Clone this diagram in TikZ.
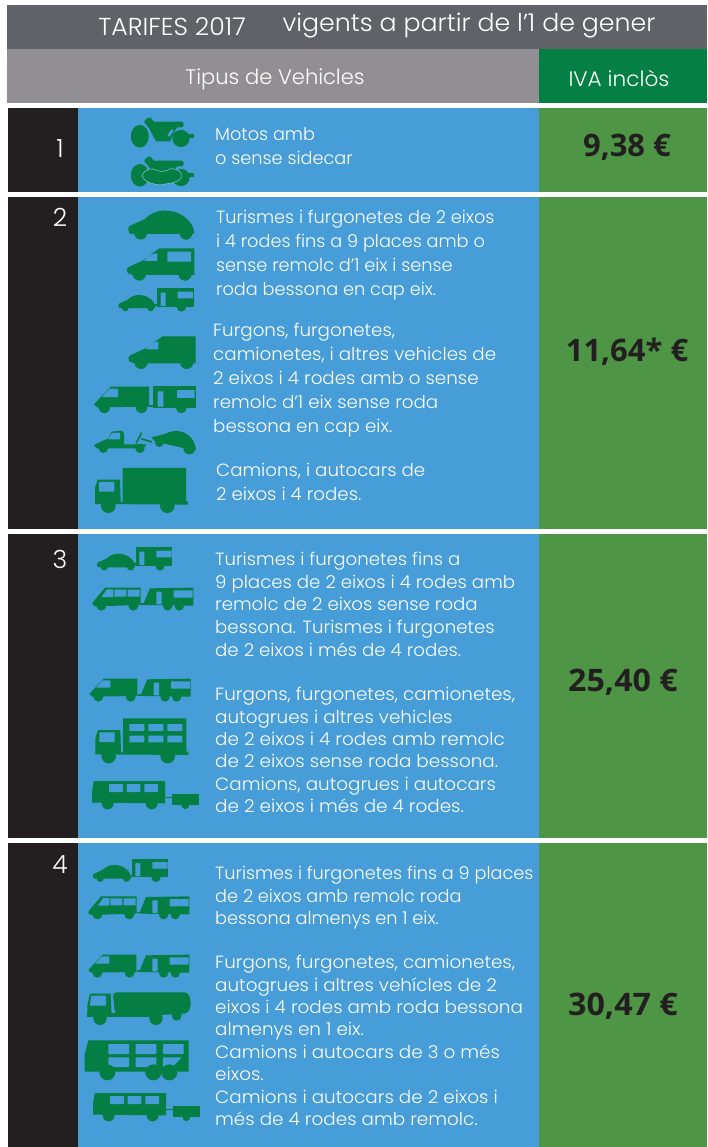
\documentclass[tikz,border=0pt]{standalone}
\usepackage{fontspec}
\setmainfont{Poppins}[UprightFont=* Light,BoldFont=* SemiBold]
\newfontfamily\pricefont{Open Sans}[UprightFont=* Bold]
\definecolor{darkhead}{HTML}{5F6368}
\definecolor{greyhead}{HTML}{918F94}
\definecolor{greenhead}{HTML}{048045}
\definecolor{rowblack}{HTML}{231F20}
\definecolor{rowblue}{HTML}{469DD7}
\definecolor{rowgreen}{HTML}{4E9645}
\definecolor{iconc}{HTML}{047E43}
\tikzset{
  band/.style={fill=#1,draw=none},
  head/.style={text=white,inner sep=0pt,font=\fontsize{21}{24}\selectfont},
  headb/.style={text=white,inner sep=0pt,font=\fontsize{24.5}{28}\selectfont},
  para/.style={text=white,anchor=north west,inner sep=0pt,align=left,font=\fontsize{17.7}{#1}\selectfont},
  num/.style={text=white,inner sep=0pt,font=\fontsize{25}{28}\selectfont},
  price/.style={text=rowblack,inner sep=0pt,font=\pricefont\fontsize{31}{34}\selectfont},
  win/.style={fill=rowblue,draw=none,rounded corners=.5pt},
  ic/.style={fill=iconc,draw=none},
  pics/icar/.style={code={
    \fill[ic] (2,58) .. controls (0,50) and (5,50) .. (10,46) -- (50,28) .. controls (70,10) and (90,0) .. (115,2) .. controls (160,2) and (198,35) .. (200,70) -- (195,72) -- (10,72) .. controls (5,72) and (2,65) .. (2,58) -- cycle;
    \fill[ic] (39,70) circle[radius=19] (175,70) circle[radius=19];}},
  pics/ivan/.style={code={
    \fill[ic] (2,66) -- (8,58) -- (52,38) -- (100,2) -- (205,2) -- (205,82) -- (20,82) -- (5,76) -- cycle;
    \fill[win] (54,40) .. controls (65,25) and (80,17) .. (94,17) -- (94,40) -- cycle;
    \fill[win] (124,12) rectangle (195,42);
    \fill[ic] (40,79) circle[radius=20] (177,79) circle[radius=20];}},
  pics/ipanel/.style={code={
    \fill[ic] (2,66) -- (8,58) -- (52,38) -- (105,1) -- (204,1) -- (204,82) -- (20,82) -- (5,76) -- cycle;
    \fill[win] (54,40) .. controls (65,25) and (80,17) .. (92,17) -- (92,40) -- cycle;
    \fill[ic] (40,79) circle[radius=20] (177,79) circle[radius=20];}},
  pics/icaravan/.style={code={
    \fill[ic] (0,0) rectangle (110,56);
    \fill[ic] (-12,48) rectangle (0,53);
    \fill[win] (11,13) rectangle (26,53);
    \fill[win] (62,10) rectangle (108,30);
    \fill[ic] (73,56) circle[radius=14];}},
  pics/icaravanb/.style={code={
    \fill[ic] (0,50) -- (20,2) -- (150,0) -- (150,54) -- (5,52) -- cycle;
    \fill[ic] (-8,46) rectangle (4,51);
    \fill[win] (39,12) rectangle (55,50);
    \fill[win] (91,8) rectangle (148,30);
    \fill[ic] (73,55) circle[radius=14] (108,55) circle[radius=14];}},
  pics/ibus/.style={code={
    \fill[ic] (0,50) -- (3,42) -- (38,0) -- (145,0) -- (145,52) -- (8,56) -- cycle;
    \fill[win] (28,28) -- (44,5) -- (63,5) -- (63,28) -- cycle;
    \fill[win] (66,6) rectangle (102,27);
    \fill[win] (106,6) rectangle (142,27);
    \fill[ic] (27,54) circle[radius=15] (123,54) circle[radius=15];}},
  pics/ivanb/.style={code={
    \fill[ic] (0,46) -- (43,0) -- (144,0) -- (144,52) -- (8,54) -- cycle;
    \fill[win] (20,27) -- (40,5) -- (63,5) -- (63,27) -- cycle;
    \fill[ic] (27,54) circle[radius=15] (124,54) circle[radius=15];}},
  pics/itruck/.style={code={
    \fill[ic] (0,60) -- (8,35) -- (75,35) -- (77,102) -- (83,102) -- (83,0) -- (273,0) -- (273,100) -- (279,100) -- (279,110) -- (0,108) -- cycle;
    \fill[win] (12,42) rectangle (58,71);
    \fill[ic] (40,113) circle[radius=22] (217,113) circle[radius=22];}},
  pics/ibust/.style={code={
    \fill[ic] (5,0) -- (219,0) -- (219,67) -- (0,65) -- (0,35) -- cycle;
    \fill[win] (51,9) rectangle (93,33);
    \fill[win] (104,9) rectangle (145,33);
    \fill[win] (157,9) rectangle (198,33);
    \fill[ic] (47,67) circle[radius=18] (179,67) circle[radius=18];
    \fill[ic] (219,47) rectangle (242,51);
    \fill[ic] (241,39) rectangle (320,71);
    \fill[ic] (280,72) circle[radius=12];}},
  pics/imoto/.style={code={
    \fill[ic] (139.8,136.3) ellipse[x radius=9,y radius=11.3];
    \fill[ic] (181,138.5) ellipse[x radius=8.6,y radius=8.6];
    \fill[ic] (188,134.5) rectangle (194,138);
    \fill[ic,rounded corners=2pt] (155,121.7) rectangle (183.5,127.3);
    \fill[ic,rounded corners=.6pt] (144,122) -- (147,118) -- (151,117.5) -- (152,120) -- (158,124) -- (178,126) -- (176,129) -- (170,141.5) -- (156,141.5) -- (149,128) -- cycle;
    \fill[rowblue] (167,136.5) -- (171,129.5) -- (174,130) -- (170,136.5) -- cycle;}}
}
\begin{document}
\begin{tikzpicture}[x=1pt,y=-1pt]
\useasboundingbox (0,0) rectangle (707,1147);
\fill[white] (0,0) rectangle (707,1147);
% header
\fill[band=darkhead] (7,5) rectangle (707,49);
\fill[band=greyhead] (7,49) rectangle (539,103);
\fill[band=greenhead] (539,49) rectangle (707,103);
\node[headb,xscale=1.03] (title) at (172,27) {TARIFES 2017};
\node[headb,xscale=1.03] (validity) at (469,26) {vigents a partir de l’1 de gener};
\node[head] (types) at (275,79) {Tipus de Vehicles};
\node[head,xscale=1.03] (vat) at (619,78) {IVA inclòs};
% bands
\foreach \a/\b in {108/192,197/529,534/838,843/1147}{
  \fill[band=rowblack] (8,\a) rectangle (78,\b);
  \fill[band=rowblue] (78,\a) rectangle (539,\b);
  \fill[band=rowgreen] (539,\a) rectangle (707,\b);
}
\node[num] (n1) at (60,149) {1};
\node[num] (n2) at (60,217) {2};
\node[num] (n3) at (60,559) {3};
\node[num] (n4) at (60,865) {4};
\node[price] (p1) at (627,147) {9,38 €};
\node[price] (p2) at (627,352) {11,64* €};
\node[price,xscale=1.04] (p3) at (623,682) {25,40 €};
\node[price,xscale=1.04] (p4) at (623,1006) {30,47 €};
% texts
\node[para=24] (t1) at (215,127) {Motos amb\\o sense sidecar};
\node[para=24] (t2) at (216,210) {Turismes i furgonetes de 2 eixos\\i 4 rodes fins a 9 places amb o\\sense remolc d’1 eix i sense\\roda bessona en cap eix.};
\node[para=24,xscale=1.033] (t3) at (213,323) {Furgons, furgonetes,\\camionetes, i altres vehicles de\\2 eixos i 4 rodes amb o sense\\remolc d’1 eix sense roda\\bessona en cap eix.};
\node[para=23.5,xscale=1.03] (t4) at (216,463) {Camions, i autocars de\\2 eixos i 4 rodes.};
\node[para=22.6,xscale=1.027] (t5) at (215,552) {Turismes i furgonetes fins a\\9 places de 2 eixos i 4 rodes amb\\remolc de 2 eixos sense roda\\bessona. Turismes i furgonetes\\de 2 eixos i més de 4 rodes.};
\node[para=22.4,xscale=1.038] (t6) at (215,687) {Furgons, furgonetes, camionetes,\\autogrues i altres vehicles\\de 2 eixos i 4 rodes amb remolc\\de 2 eixos sense roda bessona.\\Camions, autogrues i autocars\\de 2 eixos i més de 4 rodes.};
\node[para=22.5] (t7) at (215,866) {Turismes i furgonetes fins a 9 places\\de 2 eixos amb remolc roda\\bessona almenys en 1 eix.};
\node[para=22.4,xscale=1.038] (t8) at (215,955) {Furgons, furgonetes, camionetes,\\autogrues i altres vehícles de 2\\eixos i 4 rodes amb roda bessona\\almenys en 1 eix.\\Camions i autocars de 3 o més\\eixos.\\Camions i autocars de 2 eixos i\\més de 4 rodes amb remolc.};
% motos
\pic at (0,0) {imoto};
\pic at (0,39) {imoto};
\fill[iconc,draw=rowblue!60!white,line width=.5pt] (142,176) .. controls (145,168) and (152,168) .. (156,170) .. controls (160,172) and (165,172) .. (170,169) .. controls (178,168) and (183,172) .. (181,178) .. controls (176,184) and (168,183) .. (160,185) .. controls (152,184) and (144,182) .. (142,176) -- cycle;
% row 2 icons
\begin{scope}[shift={(80,200)},x=1/3pt,y=-1/3pt]
\pic at (143,30) {icar};
\pic at (138,143) {ivan};
\pic[scale=.56] at (114,284) {icar};
\pic at (231,265) {icaravan};
\pic at (143,408) {ipanel};
\pic[scale=1.15] at (42,560) {ivanb};
\pic[scale=1.15] at (220,559) {icaravan};
\fill[ic] (42,735) -- (85,715) -- (95,695) -- (125,692) -- (132,700) -- (132,733) -- (200,733) -- (190,745) -- (50,745) -- cycle;
\fill[win] (84,718) -- (96,699) -- (120,698) -- (120,718) -- cycle;
\fill[ic] (70,745) circle[radius=14] (180,745) circle[radius=14];
\draw[iconc,line width=1.6pt] (168,730) -- (185,698) (183,716) -- (216,726);
\fill[ic] (215,712) -- (255,702) .. controls (290,682) and (340,695) .. (348,748) -- (315,745) -- (240,728) -- (222,722) -- cycle;
\fill[ic] (238,728) circle[radius=13] (328,745) circle[radius=18];
\pic at (45,804) {itruck};
\end{scope}
% row 3 icons
\begin{scope}[shift={(80,535)},x=1/3pt,y=-1/3pt]
\pic[scale=.58] at (50,55) {icar};
\pic at (167,37) {icaravan};
\pic at (37,158) {ibus};
\pic at (190,158) {icaravanb};
\pic at (28,431) {ivanb};
\pic at (182,431) {icaravanb};
\pic at (46,550) {itruck};
\foreach \wx in {148,205,262}{
  \fill[win] (\wx,567) rectangle ++(45,21);
  \fill[win] (\wx,602) rectangle ++(45,20);}
\pic at (36,738) {ibust};
\end{scope}
% row 4 icons
\begin{scope}[shift={(80,845)},x=1/3pt,y=-1/3pt]
\pic[scale=.58] at (38,59) {icar};
\pic at (155,41) {icaravan};
\pic at (25,154) {ibus};
\pic at (178,154) {icaravanb};
\pic at (25,329) {ivanb};
\pic at (178,329) {icaravanb};
% tanker
\fill[ic] (22,480) -- (30,446) -- (92,446) -- (95,510) -- (240,510) -- (22,516) -- cycle;
\fill[win] (33,452) -- (78,452) -- (78,482) -- (30,482) -- cycle;
\fill[ic,rounded corners=4pt] (98,442) -- (325,442) -- (334,475) -- (325,505) -- (240,510) -- (105,508) -- cycle;
\fill[ic] (22,505) rectangle (240,516);
\fill[ic] (60,520) circle[radius=20] (228,520) circle[radius=20] (290,512) circle[radius=15];
% large bus
\fill[ic] (14,630) -- (25,586) -- (326,586) -- (326,680) -- (14,680) -- cycle;
\foreach \wx in {85,167}{
  \fill[win] (\wx,597) rectangle ++(62,30);
  \fill[win] (\wx,637) rectangle ++(62,29);}
\fill[win] (249,597) rectangle ++(62,30);
\fill[win] (249,637) -- (306,637) -- (277,666) -- (249,666) -- cycle;
\fill[ic] (82,682) circle[radius=24] (220,682) circle[radius=24] (268,682) circle[radius=24];
\pic at (39,744) {ibust};
\end{scope}
\end{tikzpicture}
\end{document}
